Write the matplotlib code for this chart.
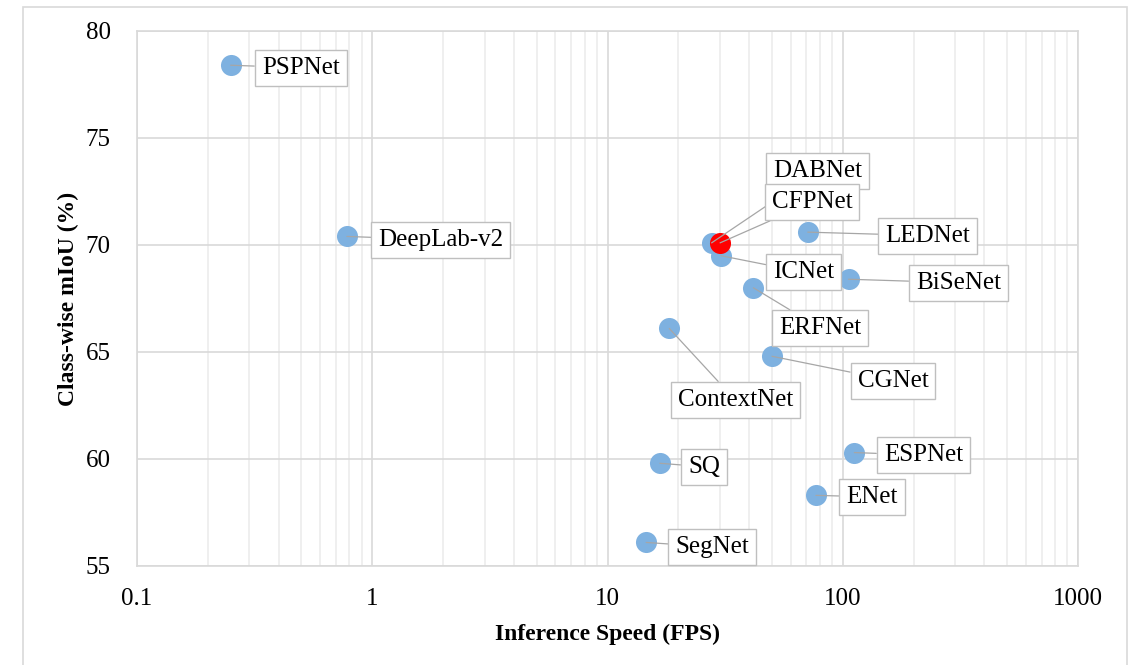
import matplotlib.pyplot as plt
from matplotlib.patches import Rectangle

plt.rcParams['font.family'] = ['Liberation Serif', 'DejaVu Serif']

# data
names = ['PSPNet', 'DeepLab-v2', 'DABNet', 'CFPNet', 'LEDNet', 'ICNet', 'BiSeNet',
         'ERFNet', 'CGNet', 'ContextNet', 'SQ', 'ESPNet', 'ENet', 'SegNet']
fps = [0.25, 0.78, 27.7, 30.1, 71, 30.3, 105.8, 41.7, 50, 18.3, 16.7, 112, 76.9, 14.6]
miou = [78.4, 70.4, 70.1, 70.1, 70.6, 69.5, 68.4, 68.0, 64.8, 66.1, 59.8, 60.3, 58.3, 56.1]

# label offsets from each point, in pixels
label_dx = [70, 94, 106, 92, 120, 83, 110, 67, 121, 66, 44, 69, 56, 66]
label_dy = [0, -1, 74, 43, -1, -14, -1, -38, -22, -69, -1, 0, 1, -2]

blue = '#7eb1e0'
red = '#ff0000'

fig = plt.figure(figsize=(11.38, 6.65), dpi=100)
fig.patches.append(Rectangle((23 / 1138, -0.05), (1127 - 23) / 1138, 1 - 7 / 665 + 0.05,
                             transform=fig.transFigure, fill=False,
                             edgecolor='#d9d9d9', lw=1.2))
ax = fig.add_axes([0.1204, 0.1489, 0.8269, 0.8045])

ax.set_xscale('log')
ax.set_xlim(0.1, 1000)
ax.set_ylim(55, 80)
ax.set_yticks([55, 60, 65, 70, 75, 80])
ax.set_xticks([0.1, 1, 10, 100, 1000])
ax.set_xticklabels(['0.1', '1', '10', '100', '1000'])

ax.grid(True, which='major', axis='both', color='#d9d9d9', lw=1.2)
ax.grid(True, which='minor', axis='x', color='#ececec', lw=1.2)
ax.set_axisbelow(True)
for s in ax.spines.values():
    s.set_color('#d9d9d9')
    s.set_linewidth(1.2)
ax.tick_params(axis='both', which='both', length=0, labelsize=18)
ax.tick_params(axis='x', pad=16)
ax.tick_params(axis='y', pad=19)

# blue points first, red one on top
for i, n in enumerate(names):
    if n != 'CFPNet':
        ax.scatter(fps[i], miou[i], s=230, color=blue, zorder=3, linewidths=0)
for i, n in enumerate(names):
    if n == 'CFPNet':
        ax.scatter(fps[i], miou[i], s=230, color=red, zorder=4, linewidths=0)

for i, n in enumerate(names):
    ax.annotate(n, (fps[i], miou[i]), xytext=(label_dx[i], label_dy[i]),
                textcoords='offset pixels', ha='center', va='center_baseline', fontsize=18,
                bbox=dict(boxstyle='square,pad=0.28', fc='white', ec='#bfbfbf', lw=1),
                arrowprops=dict(arrowstyle='-', color='#a6a6a6', lw=0.9,
                                shrinkA=0, shrinkB=0),
                zorder=5)

ax.set_xlabel('Inference Speed (FPS)', fontsize=17, fontweight='bold', labelpad=10)
ax.set_ylabel('Class-wise mIoU (%)', fontsize=17, fontweight='bold', labelpad=5)

fig.savefig('out.png', dpi=100)
